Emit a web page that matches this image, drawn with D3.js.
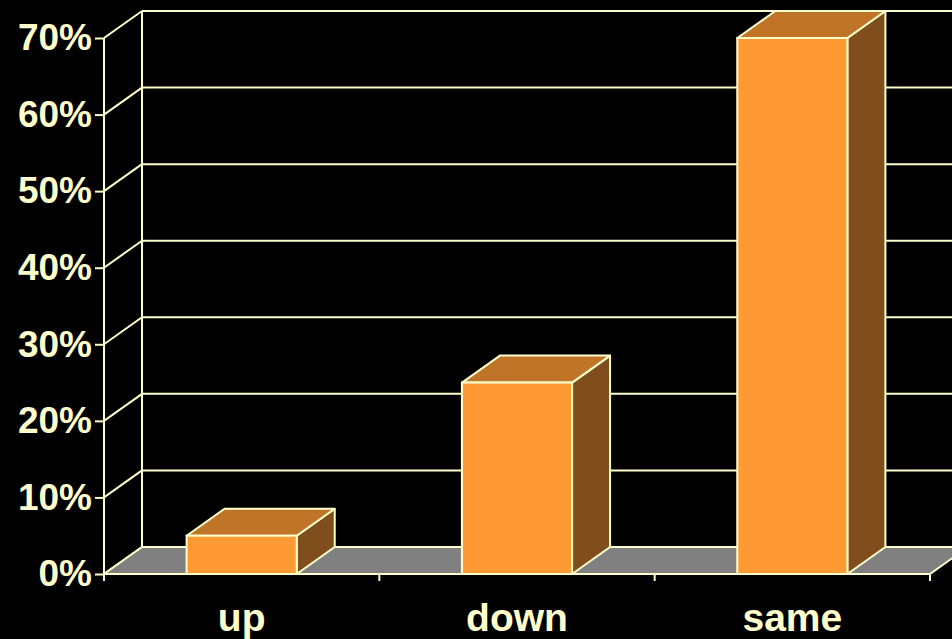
<!DOCTYPE html>
<html>
<head>
<meta charset="utf-8">
<script src="https://cdn.jsdelivr.net/npm/d3@7"></script>
<style>
  html, body { margin: 0; padding: 0; background: #000; }
  svg { display: block; }
</style>
</head>
<body>
<svg id="chart" width="952" height="639"></svg>
<script>
var categories = ['up', 'down', 'same']
var values = [0.05, 0.25, 0.70]
var yTicks = [0, 0.1, 0.2, 0.3, 0.4, 0.5, 0.6, 0.7]

var ink = '#FFFFCC'
var depthX = 38, depthY = -27

var svg = d3.select('svg#chart')

var x = d3.scaleBand()
  .domain(categories)
  .range([104, 930])
  .paddingInner(0).paddingOuter(0)

var y = d3.scaleLinear()
  .domain([0, 0.7])
  .range([574, 38])

var x0 = x.range()[0], x1 = x.range()[1]

// back wall gridlines
var g = svg.append('g')
g.selectAll('.grid')
  .data(yTicks)
  .enter()
  .append('line')
  .attr('x1', x0 + depthX)
  .attr('x2', x1 + depthX)
  .attr('y1', function(d){ return y(d) + depthY })
  .attr('y2', function(d){ return y(d) + depthY })
  .style('stroke', ink).style('stroke-width', 2)

// side wall diagonals
g.selectAll('.diag')
  .data(yTicks)
  .enter()
  .append('line')
  .attr('x1', x0)
  .attr('y1', function(d){ return y(d) })
  .attr('x2', x0 + depthX)
  .attr('y2', function(d){ return y(d) + depthY })
  .style('stroke', ink).style('stroke-width', 2)

// back wall left edge
g.append('line')
  .attr('x1', x0 + depthX).attr('x2', x0 + depthX)
  .attr('y1', y(0.7) + depthY).attr('y2', y(0) + depthY)
  .style('stroke', ink).style('stroke-width', 2)

// floor
var fy = y(0)
g.append('path')
  .attr('d', 'M' + x0 + ',' + fy + 'L' + x1 + ',' + fy +
    'L' + (x1 + depthX) + ',' + (fy + depthY) + 'L' + (x0 + depthX) + ',' + (fy + depthY) + 'Z')
  .style('fill', '#808080')
  .style('stroke', ink).style('stroke-width', 2)

// front axis line
g.append('line')
  .attr('x1', x0).attr('x2', x0)
  .attr('y1', y(0.7)).attr('y2', fy + 7)
  .style('stroke', ink).style('stroke-width', 2)

// category boundary ticks
var bounds = categories.map(function(c){ return x(c) + x.bandwidth() })
g.selectAll('.ctick')
  .data(bounds)
  .enter()
  .append('line')
  .attr('x1', function(d){ return d }).attr('x2', function(d){ return d })
  .attr('y1', fy).attr('y2', fy + 7)
  .style('stroke', ink).style('stroke-width', 2)

// bars
var bw = x.bandwidth() * 0.4
var bars = g.selectAll('.bar')
  .data(categories.map(function(c, i){ return {cat: c, v: values[i]} }))
  .enter()
  .append('g')

function poly(pts){ return 'M' + pts.map(function(p){ return p.join(',') }).join('L') + 'Z' }

bars.append('path') // side
  .attr('d', function(d){
    var l = x(d.cat) + (x.bandwidth() - bw) / 2, r = l + bw, t = y(d.v)
    return poly([[r, t], [r + depthX, t + depthY], [r + depthX, fy + depthY], [r, fy]])
  })
  .style('fill', '#804D1C').style('stroke', ink).style('stroke-width', 2).style('stroke-linejoin', 'round')

bars.append('path') // top
  .attr('d', function(d){
    var l = x(d.cat) + (x.bandwidth() - bw) / 2, r = l + bw, t = y(d.v)
    return poly([[l, t], [l + depthX, t + depthY], [r + depthX, t + depthY], [r, t]])
  })
  .style('fill', '#C07428').style('stroke', ink).style('stroke-width', 2).style('stroke-linejoin', 'round')

bars.append('rect') // front
  .attr('x', function(d){ return x(d.cat) + (x.bandwidth() - bw) / 2 })
  .attr('y', function(d){ return y(d.v) })
  .attr('width', bw)
  .attr('height', function(d){ return fy - y(d.v) })
  .style('fill', '#FF9933').style('stroke', ink).style('stroke-width', 2)

// y axis labels
var yAxis = svg.append('g')
  .attr('transform', 'translate(' + x0 + ',0)')
  .call(d3.axisLeft(y).tickValues(yTicks).tickFormat(d3.format('.0%')).tickSize(9).tickPadding(3))
yAxis.select('.domain').remove()
yAxis.selectAll('line').style('stroke', ink).style('stroke-width', 2)
yAxis.selectAll('text')
  .style('fill', ink)
  .style('font-family', 'Liberation Sans, Arial, sans-serif')
  .style('font-weight', 'bold')
  .style('font-size', '37px')

// x axis labels
var xAxis = svg.append('g')
  .attr('transform', 'translate(0,' + fy + ')')
  .call(d3.axisBottom(x).tickSize(0).tickPadding(29))
xAxis.select('.domain').remove()
xAxis.selectAll('text')
  .style('fill', ink)
  .style('font-family', 'Liberation Sans, Arial, sans-serif')
  .style('font-weight', 'bold')
  .style('font-size', '39px')
</script>
</body>
</html>
